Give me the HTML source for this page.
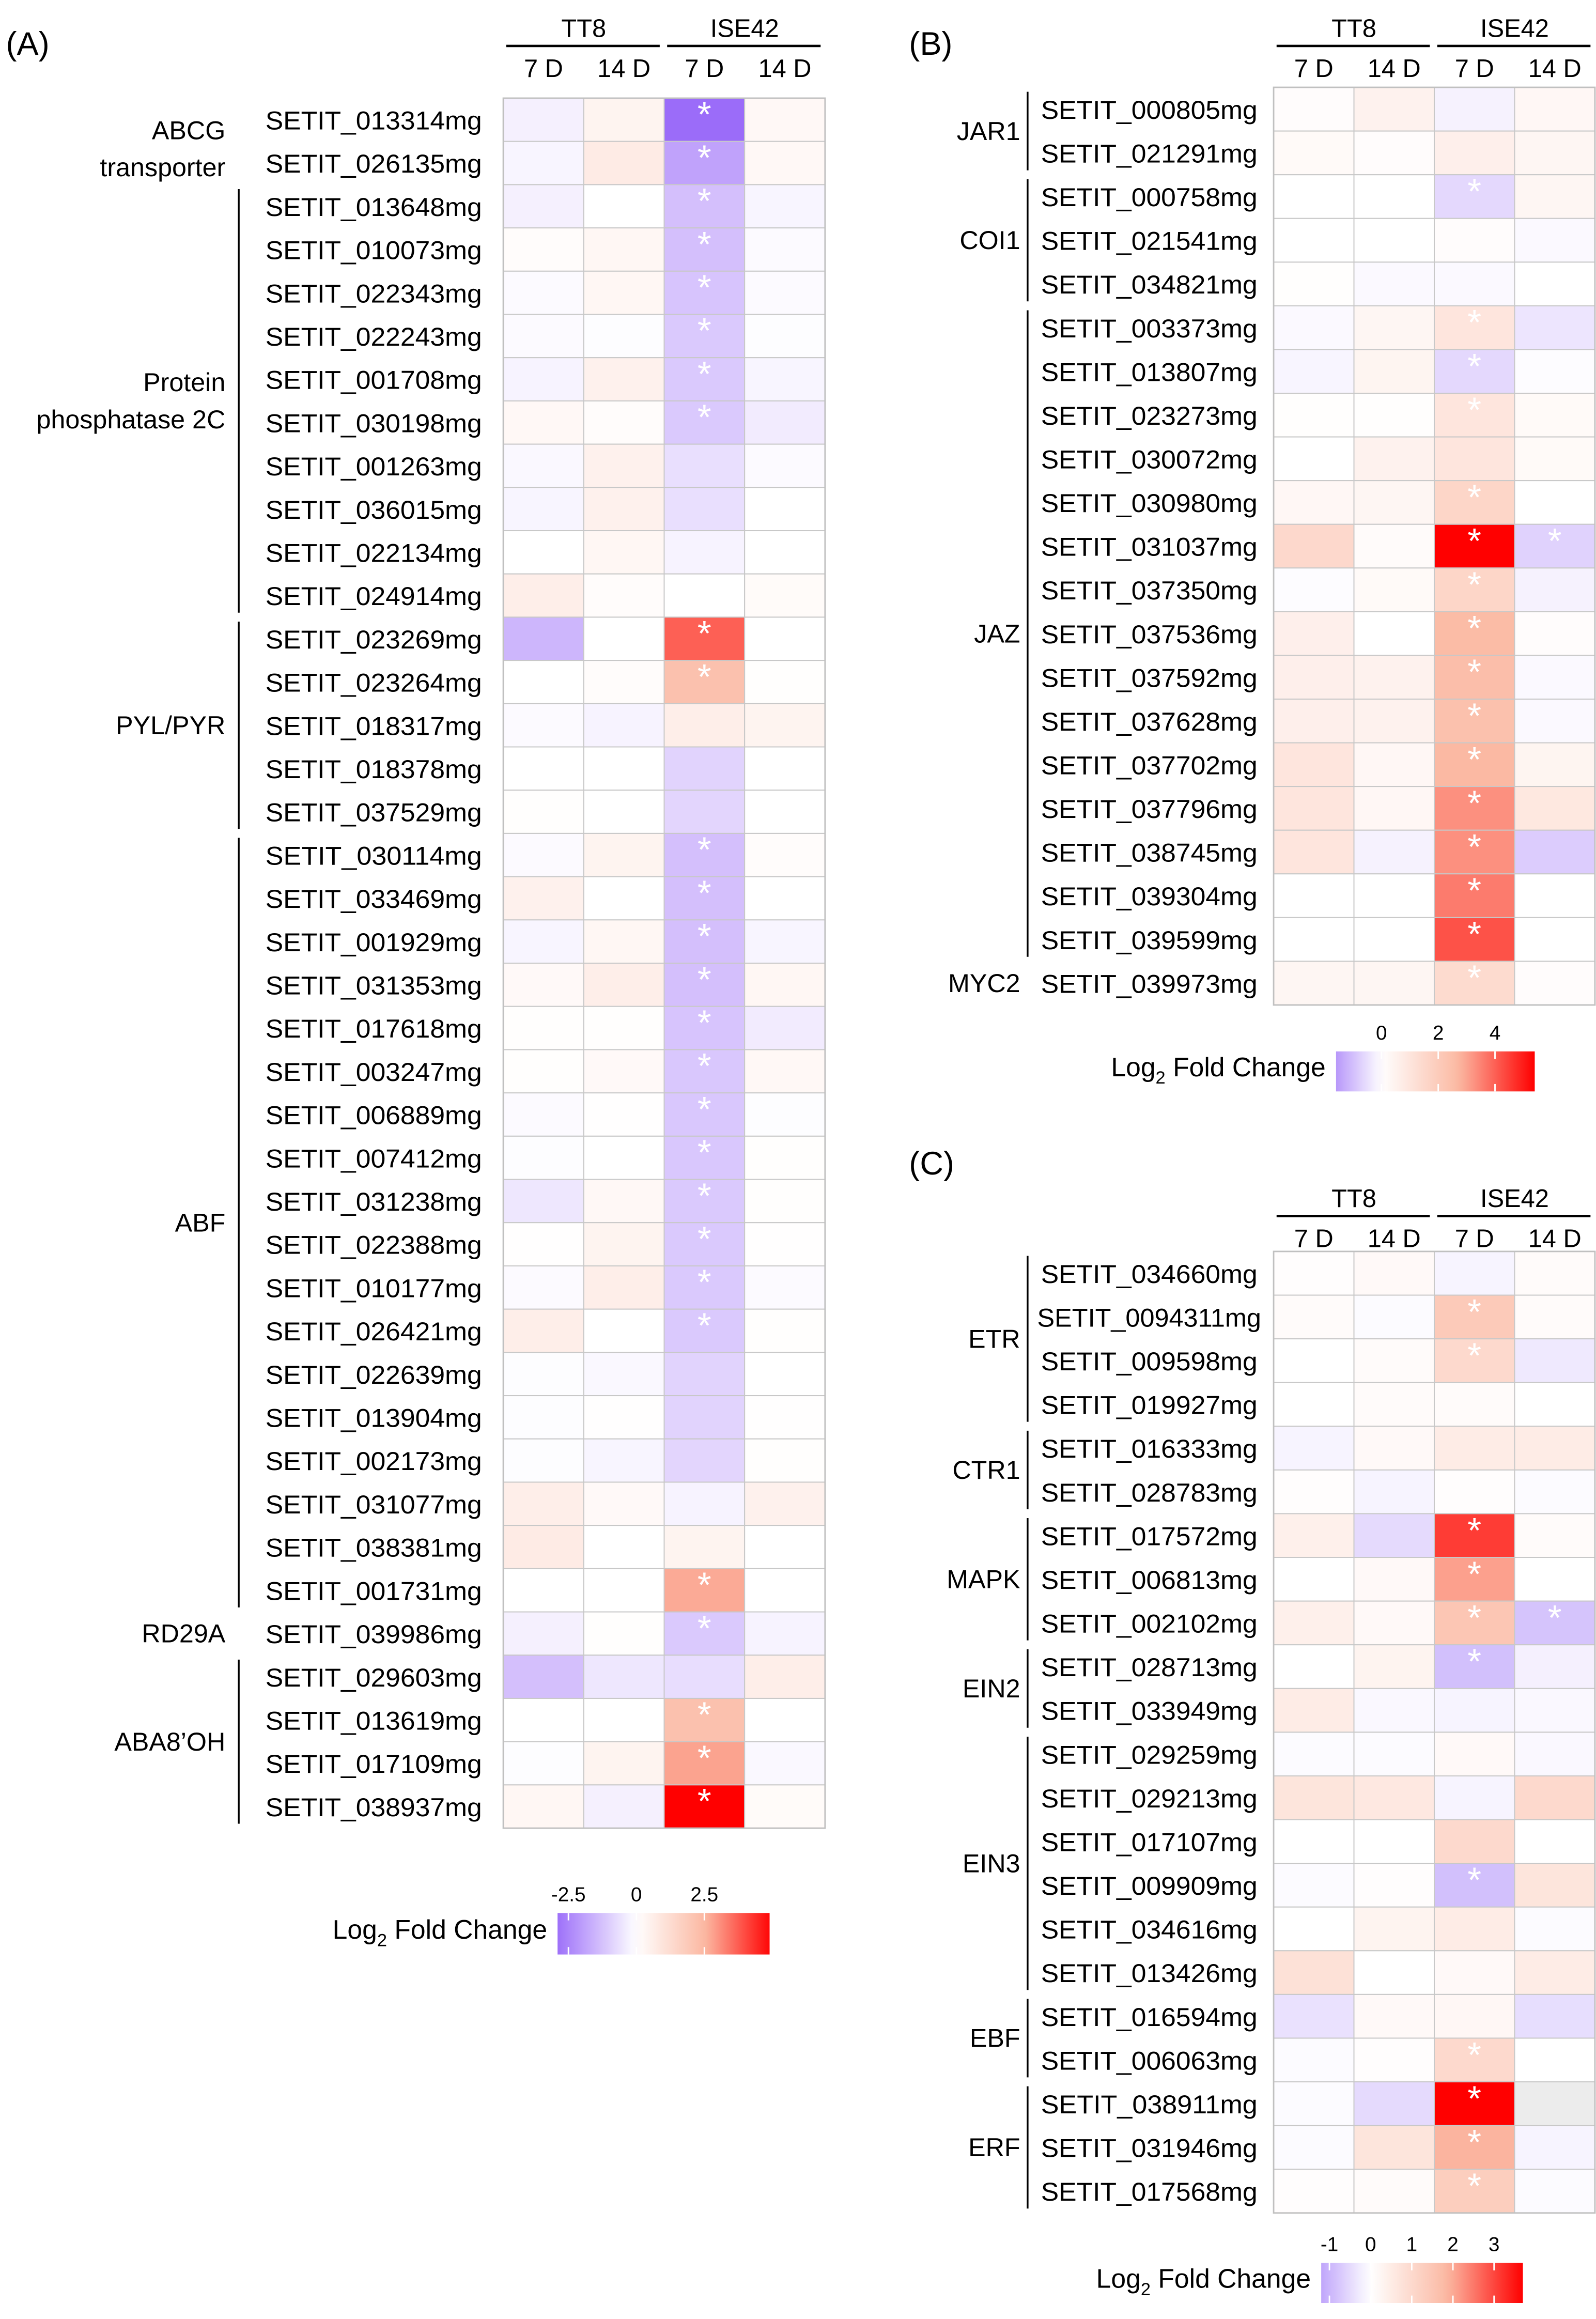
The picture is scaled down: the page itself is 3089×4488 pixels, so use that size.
<!DOCTYPE html>
<html><head><meta charset="utf-8"><title>Log2 fold change heatmaps</title>
<style>html,body{margin:0;padding:0;background:#fff;}svg{display:block;}
text{font-family:"Liberation Sans",sans-serif;fill:#000;}</style></head>
<body>
<svg id="chart" xmlns="http://www.w3.org/2000/svg" width="3089" height="4488" viewBox="0 0 1076.3 1563.8">
<rect x="0" y="0" width="1076.3" height="1563.8" fill="#fff"/>
</svg>
<script>
// ---------- Panel A data ----------
const genesA = ["SETIT_013314mg","SETIT_026135mg","SETIT_013648mg","SETIT_010073mg","SETIT_022343mg","SETIT_022243mg","SETIT_001708mg","SETIT_030198mg","SETIT_001263mg","SETIT_036015mg","SETIT_022134mg","SETIT_024914mg","SETIT_023269mg","SETIT_023264mg","SETIT_018317mg","SETIT_018378mg","SETIT_037529mg","SETIT_030114mg","SETIT_033469mg","SETIT_001929mg","SETIT_031353mg","SETIT_017618mg","SETIT_003247mg","SETIT_006889mg","SETIT_007412mg","SETIT_031238mg","SETIT_022388mg","SETIT_010177mg","SETIT_026421mg","SETIT_022639mg","SETIT_013904mg","SETIT_002173mg","SETIT_031077mg","SETIT_038381mg","SETIT_001731mg","SETIT_039986mg","SETIT_029603mg","SETIT_013619mg","SETIT_017109mg","SETIT_038937mg"];
const tt8d7A  = [-0.3,-0.2,-0.3,0.1,-0.1,-0.1,-0.25,0.25,-0.15,-0.2,0,0.6,-1.5,0,-0.1,0,0.05,-0.1,0.5,-0.2,0.2,0.05,0.05,-0.1,-0.05,-0.5,0.02,-0.1,0.6,-0.05,-0.05,-0.05,0.6,0.7,0,-0.3,-1.3,0,-0.05,0.3];
const tt8d14A = [0.4,0.7,0,0.3,0.3,-0.05,0.5,0.1,0.5,0.5,0.3,0.1,0,0.1,-0.25,0,0,0.4,0,0.3,0.6,0.05,0.2,0.02,0,0.25,0.4,0.6,0,-0.15,0.02,-0.2,0.2,0,0,0.05,-0.5,0,0.4,-0.3];
const ised7A  = [-3.0,-1.9,-1.3,-1.3,-1.2,-1.1,-1.1,-1.1,-0.65,-0.65,-0.25,0,3.7,2.2,0.6,-0.9,-0.85,-1.3,-1.3,-1.3,-1.3,-1.2,-1.15,-1.15,-1.15,-1.1,-1.1,-1.1,-1.1,-0.9,-0.9,-0.85,-0.25,0.4,2.7,-1.1,-0.7,2.2,2.8,5.0];
const ised14A = [0.25,0.25,-0.2,-0.1,-0.1,-0.05,-0.2,-0.4,-0.1,0,0,0.15,0,0.05,0.4,0,0,0.1,0,-0.2,0.3,-0.4,0.25,-0.05,0.05,0.05,0.02,-0.1,0.05,0,0.02,0.05,0.5,0,0,-0.25,0.6,0,-0.15,0.15];
const sigA    = [1,1,1,1,1,1,1,1,0,0,0,0,1,1,0,0,0,1,1,1,1,1,1,1,1,1,1,1,1,0,0,0,0,0,1,1,0,1,1,1];
const groupsA = [["ABCG|transporter",0,1,false],["Protein|phosphatase 2C",2,11,true],["PYL/PYR",12,16,true],["ABF",17,34,true],["RD29A",35,35,false],["ABA8\u2019OH",36,39,true]];
const ticksA = ["-2.5","0","2.5"]; const tickValsA = [-2.5,0,2.5];

// ---------- Panel B data ----------
const genesB = ["SETIT_000805mg","SETIT_021291mg","SETIT_000758mg","SETIT_021541mg","SETIT_034821mg","SETIT_003373mg","SETIT_013807mg","SETIT_023273mg","SETIT_030072mg","SETIT_030980mg","SETIT_031037mg","SETIT_037350mg","SETIT_037536mg","SETIT_037592mg","SETIT_037628mg","SETIT_037702mg","SETIT_037796mg","SETIT_038745mg","SETIT_039304mg","SETIT_039599mg","SETIT_039973mg"];
const tt8d7B  = [0.1,0.2,0,0,0.05,-0.1,-0.15,0.05,0,0.3,1.5,-0.05,0.6,0.6,0.6,1.0,1.0,1.0,0,0,0.35];
const tt8d14B = [0.5,0.1,0,0,-0.1,0.35,0.4,0.05,0.5,0.35,0.15,0.2,0,0.5,0.5,0.3,0.3,-0.2,0,0,0.35];
const ised7B  = [-0.2,0.6,-0.6,0.1,-0.1,1.0,-0.6,1.0,1.0,1.6,5.4,1.6,2.6,2.5,2.4,2.7,3.3,3.3,3.6,4.2,1.4];
const ised14B = [0.3,0.35,0.35,-0.1,0,-0.4,-0.05,0.2,0.2,0,-0.7,-0.2,0.1,-0.1,-0.1,0.4,0.9,-0.8,0,0,0.1];
const sigB    = [0,0,1,0,0,1,1,1,0,1,1,1,1,1,1,1,1,1,1,1,1];
const sig14B  = [0,0,0,0,0,0,0,0,0,0,1,0,0,0,0,0,0,0,0,0,0];
const groupsB = [["JAR1",0,1,true],["COI1",2,4,true],["JAZ",5,19,true],["MYC2",20,20,false]];
const ticksB = ["0","2","4"]; const tickValsB = [0,2,4];

// ---------- Panel C data ----------
const genesC = ["SETIT_034660mg","SETIT_0094311mg","SETIT_009598mg","SETIT_019927mg","SETIT_016333mg","SETIT_028783mg","SETIT_017572mg","SETIT_006813mg","SETIT_002102mg","SETIT_028713mg","SETIT_033949mg","SETIT_029259mg","SETIT_029213mg","SETIT_017107mg","SETIT_009909mg","SETIT_034616mg","SETIT_013426mg","SETIT_016594mg","SETIT_006063mg","SETIT_038911mg","SETIT_031946mg","SETIT_017568mg"];
const tt8d7C  = [0.05,0.1,0,0,-0.15,0.05,0.4,0,0.4,0,0.5,-0.05,0.7,0,-0.05,0,0.8,-0.4,-0.05,-0.05,-0.05,0.05];
const tt8d14C = [0.15,-0.05,0.1,0.1,0.15,-0.15,-0.5,0.15,0.15,0.3,-0.1,-0.05,0.6,0,0.05,0.3,0,0.15,0.05,-0.5,0.7,0.1];
const ised7C  = [-0.15,1.4,1.0,0.1,0.5,0.05,3.1,2.1,1.5,-0.85,-0.15,0.15,-0.15,1.0,-0.85,0.5,0.15,0.2,1.0,3.7,1.9,1.3];
const ised14C = [0.1,0.1,-0.3,0,0.5,-0.05,0.1,0,-0.8,-0.2,-0.1,-0.1,1.0,0,0.7,-0.05,0.5,-0.45,0,null,-0.15,-0.05];
const sigC    = [0,1,1,0,0,0,1,1,1,1,0,0,0,0,1,0,0,0,1,1,1,1];
const sig14C  = [0,0,0,0,0,0,0,0,1,0,0,0,0,0,0,0,0,0,0,0,0,0];
const groupsC = [["ETR",0,3,true],["CTR1",4,5,true],["MAPK",6,8,true],["EIN2",9,10,true],["EIN3",11,16,true],["EBF",17,18,true],["ERF",19,21,true]];
const ticksC = ["-1","0","1","2","3"]; const tickValsC = [-1,0,1,2,3];

const NS = "http://www.w3.org/2000/svg";
const svg = document.getElementById("chart");
function mk(tag, attrs, parent){ const e=document.createElementNS(NS,tag); for(const k in attrs) e.setAttribute(k,attrs[k]); (parent||svg).appendChild(e); return e; }
function hex(c){return [parseInt(c.slice(1,3),16),parseInt(c.slice(3,5),16),parseInt(c.slice(5,7),16)];}
function mix(a,b,t){const A=hex(a),B=hex(b);return "rgb("+A.map((v,i)=>Math.round(v+(B[i]-v)*t)).join(",")+")";}
function colorFor(v, negMin, posMax, negEnd){
  if(v===null) return "#ececec";
  if(v>=0){ let t=Math.min(1,v/posMax); return t<0.5? mix("#ffffff","#fbb9a3",t*2) : mix("#fbb9a3","#ff0000",(t-0.5)*2); }
  let t=Math.min(1,v/negMin); return mix("#ffffff",negEnd,t);
}

function panel(cfg){
  const g = mk("g",{});
  
  
  const cols=[cfg.c1,cfg.c2,cfg.c3,cfg.c4];
  const n=cfg.genes.length, rh=(cfg.y1-cfg.y0)/n, cw=(cfg.x1-cfg.x0)/4;
  const yOf=i=>cfg.y0+i*rh, xOf=j=>cfg.x0+j*cw;
  const hy=cfg.headY;
  [["TT8",0],["ISE42",2]].forEach(([lab,j])=>{
    const t=mk("text",{x:xOf(j)+cw,y:hy,"text-anchor":"middle","font-size":17},g); t.textContent=lab;
    
    
    const l=mk("line",{x1:xOf(j)+2,x2:xOf(j+2)-3,y1:hy+6,y2:hy+6,stroke:"#000","stroke-width":1.6},g);
    
    
  });
  ["7 D","14 D","7 D","14 D"].forEach((lab,j)=>{
    const t=mk("text",{x:xOf(j)+cw/2,y:hy+27,"text-anchor":"middle","font-size":17},g); t.textContent=lab;
    
    
  });
  for(let i=0;i<n;i++){
    for(let j=0;j<4;j++){
      const r=mk("rect",{x:xOf(j),y:yOf(i),width:cw,height:rh,fill:colorFor(cols[j][i],cfg.negMin,cfg.posMax,cfg.negEnd),stroke:"#c8c8c8","stroke-width":0.7},g);
      
      
    }
    if(cfg.sig[i]){ const s=mk("text",{x:xOf(2)+cw/2,y:yOf(i)+rh*0.66,"text-anchor":"middle","font-size":24,style:"fill:#fff"},g); s.textContent="*";
      
       }
    if(cfg.sig14 && cfg.sig14[i]){ const s=mk("text",{x:xOf(3)+cw/2,y:yOf(i)+rh*0.66,"text-anchor":"middle","font-size":24,style:"fill:#fff"},g); s.textContent="*";
      
       }
    const gl=mk("text",{x:cfg.geneX,y:yOf(i)+rh/2+6.5,"text-anchor":"middle","font-size":17.5,textLength:cfg.genes[i].length>14?151:146,lengthAdjust:"spacingAndGlyphs"},g);
    gl.textContent=cfg.genes[i];
    
    
  }
  const b=mk("rect",{x:cfg.x0,y:cfg.y0,width:cfg.x1-cfg.x0,height:cfg.y1-cfg.y0,fill:"none",stroke:"#c0c0c0","stroke-width":1},g);
  
  
  cfg.groups.forEach(([lab,a,z,line])=>{
    const top=yOf(a)+3, bot=yOf(z+1)-3, mid=(yOf(a)+yOf(z+1))/2;
    if(line){ const l=mk("line",{x1:cfg.bracketX,x2:cfg.bracketX,y1:top,y2:bot,stroke:"#000","stroke-width":1.2},g);
      
       }
    const parts=lab.split("|");
    const extra = (a===0 && parts.length>1) ? 5 : 0;
    parts.forEach((p,k)=>{
      const t=mk("text",{x:cfg.groupX,y:mid+6+extra+(k-(parts.length-1)/2)*25,"text-anchor":"end","font-size":17.5},g);
      t.textContent=p;
      
      
    });
  });
  const L=cfg.leg; const gid="grad"+cfg.name;
  const defs=mk("defs",{},g); const lg=mk("linearGradient",{id:gid,x1:0,x2:1,y1:0,y2:0},defs);
  for(let k=0;k<=20;k++){ const v=cfg.legMin+(cfg.legMax-cfg.legMin)*k/20; mk("stop",{offset:k/20,"stop-color":colorFor(v,cfg.negMin,cfg.posMax,cfg.negEnd)},lg); }
  const bar=mk("rect",{x:L.x0,y:L.y0,width:L.x1-L.x0,height:L.h,fill:"url(#"+gid+")"},g);
  
  
  const lx=v=>L.x0+(v-cfg.legMin)/(cfg.legMax-cfg.legMin)*(L.x1-L.x0);
  cfg.tickVals.forEach((v,k)=>{
    const x=lx(v);
    mk("line",{x1:x,x2:x,y1:L.y0,y2:L.y0+5,stroke:"#fff","stroke-width":1},g);
    mk("line",{x1:x,x2:x,y1:L.y0+L.h-5,y2:L.y0+L.h,stroke:"#fff","stroke-width":1},g);
    const t=mk("text",{x:x,y:L.y0-8,"text-anchor":"middle","font-size":13.5},g); t.textContent=cfg.ticks[k];
    
    
  });
  const tt=mk("text",{x:L.x0-7,y:L.y0+L.h*0.62,"text-anchor":"end","font-size":18},g);
  
  
  tt.appendChild(document.createTextNode("Log"));
  const sub=mk("tspan",{"font-size":12,dy:5},tt); sub.textContent="2";
  const rest=mk("tspan",{dy:-5},tt); rest.textContent=" Fold Change";
  const pl=mk("text",{x:cfg.labX,y:cfg.labY,"font-size":22},g); pl.textContent=cfg.label;
  
  
}

panel({name:"panel-a",label:"(A)",labX:4,labY:37,genes:genesA,c1:tt8d7A,c2:tt8d14A,c3:ised7A,c4:ised14A,sig:sigA,groups:groupsA,
  x0:339.4,x1:556.4,y0:66.2,y1:1232.8,headY:25,geneX:252,groupX:152,bracketX:161,
  negMin:-3,posMax:5,negEnd:"#9b6cf9",legMin:-2.9,legMax:4.9,ticks:ticksA,tickVals:tickValsA,
  leg:{x0:376,x1:519,y0:1290,h:28}});
panel({name:"panel-b",label:"(B)",labX:613,labY:37,genes:genesB,c1:tt8d7B,c2:tt8d14B,c3:ised7B,c4:ised14B,sig:sigB,sig14:sig14B,groups:groupsB,
  x0:858.9,x1:1075.6,y0:58.9,y1:677.7,headY:25,geneX:775,groupX:688,bracketX:693,
  negMin:-1.6,posMax:5.4,negEnd:"#b898fa",legMin:-1.6,legMax:5.4,ticks:ticksB,tickVals:tickValsB,
  leg:{x0:901,x1:1035,y0:709,h:27}});
panel({name:"panel-c",label:"(C)",labX:613,labY:792,genes:genesC,c1:tt8d7C,c2:tt8d14C,c3:ised7C,c4:ised14C,sig:sigC,sig14:sig14C,groups:groupsC,
  x0:858.9,x1:1075.6,y0:843.9,y1:1492.3,headY:814,geneX:775,groupX:688,bracketX:693,
  negMin:-1.2,posMax:3.7,negEnd:"#c0a6fb",legMin:-1.2,legMax:3.7,ticks:ticksC,tickVals:tickValsC,
  leg:{x0:891,x1:1027,y0:1526,h:27}});
</script>
</body></html>
